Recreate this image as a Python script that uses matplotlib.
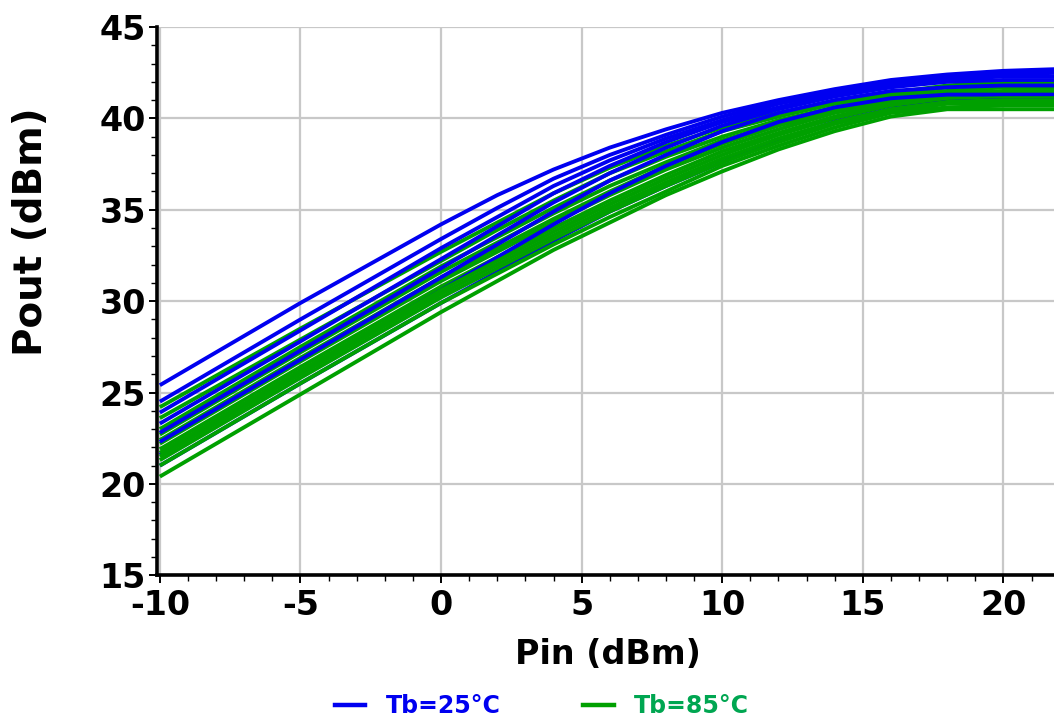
import matplotlib.pyplot as plt
from matplotlib.lines import Line2D
from matplotlib.ticker import MultipleLocator

# input power sweep points (dBm)
pin = [-10, -5, 0, 2, 4, 6, 8, 10, 12, 14, 16, 18, 20, 22]

# output power (dBm), Tb = 25 C
pout_25c = [
    [25.4, 29.9, 34.2, 35.8, 37.2, 38.4, 39.4, 40.3, 41.0, 41.6, 42.1, 42.4, 42.6, 42.7],
    [24.5, 29.0, 33.4, 35.1, 36.7, 38.0, 39.1, 40.1, 40.9, 41.5, 42.0, 42.3, 42.5, 42.6],
    [23.9, 28.4, 32.9, 34.6, 36.3, 37.7, 38.9, 39.9, 40.8, 41.4, 41.9, 42.2, 42.4, 42.5],
    [23.3, 27.8, 32.3, 34.1, 35.9, 37.4, 38.7, 39.8, 40.6, 41.3, 41.8, 42.1, 42.3, 42.3],
    [22.8, 27.3, 31.8, 33.6, 35.4, 37.0, 38.4, 39.6, 40.5, 41.2, 41.7, 42.0, 42.1, 42.1],
    [22.3, 26.8, 31.3, 33.1, 34.9, 36.6, 38.0, 39.3, 40.3, 41.0, 41.5, 41.7, 41.8, 41.8],
    [21.6, 26.1, 30.6, 32.4, 34.2, 35.9, 37.4, 38.7, 39.8, 40.6, 41.1, 41.3, 41.3, 41.3],
    [21.0, 25.5, 29.9, 31.6, 33.3, 34.9, 36.3, 37.6, 38.8, 39.8, 40.5, 40.9, 41.0, 41.0],
]

# output power (dBm), Tb = 85 C
pout_85c = [
    [24.2, 28.5, 32.7, 34.3, 35.9, 37.3, 38.5, 39.5, 40.3, 40.9, 41.4, 41.8, 42.0, 42.0],
    [23.6, 27.9, 32.2, 33.9, 35.5, 37.0, 38.2, 39.3, 40.1, 40.8, 41.3, 41.7, 41.9, 41.9],
    [23.0, 27.5, 31.9, 33.5, 35.1, 36.6, 37.9, 39.0, 39.9, 40.6, 41.2, 41.5, 41.7, 41.7],
    [22.7, 27.2, 31.6, 33.2, 34.8, 36.3, 37.6, 38.8, 39.7, 40.5, 41.1, 41.4, 41.5, 41.5],
    [22.4, 26.9, 31.3, 32.9, 34.5, 36.0, 37.4, 38.6, 39.6, 40.4, 41.0, 41.3, 41.4, 41.4],
    [22.2, 26.7, 31.1, 32.7, 34.3, 35.8, 37.2, 38.4, 39.4, 40.3, 40.9, 41.2, 41.3, 41.3],
    [21.9, 26.4, 30.8, 32.4, 34.0, 35.5, 36.9, 38.2, 39.2, 40.1, 40.8, 41.1, 41.2, 41.2],
    [21.7, 26.2, 30.6, 32.2, 33.8, 35.3, 36.7, 38.0, 39.1, 40.0, 40.7, 41.0, 41.1, 41.1],
    [21.5, 26.0, 30.4, 32.0, 33.6, 35.1, 36.5, 37.8, 38.9, 39.8, 40.5, 40.9, 41.0, 41.0],
    [21.3, 25.8, 30.2, 31.8, 33.4, 34.9, 36.3, 37.6, 38.7, 39.7, 40.4, 40.8, 40.8, 40.8],
    [21.0, 25.5, 29.9, 31.5, 33.1, 34.6, 36.0, 37.4, 38.5, 39.5, 40.3, 40.6, 40.7, 40.7],
    [20.4, 24.9, 29.4, 31.1, 32.8, 34.3, 35.8, 37.1, 38.3, 39.3, 40.1, 40.5, 40.5, 40.5],
]

x_ticks = [-10, -5, 0, 5, 10, 15, 20]
y_ticks = [15, 20, 25, 30, 35, 40, 45]
legend_labels = ["Tb=25°C", "Tb=85°C"]

BLUE = "#0000f0"
GREEN = "#00a000"
FONT = "DejaVu Sans"

fig = plt.figure(figsize=(10.54, 7.2), dpi=100)
ax = fig.add_axes([0.149, 0.201, 0.851, 0.7615])

# draw the two temperature sets interleaved so neither hides the other
for i in range(max(len(pout_25c), len(pout_85c))):
    if i < len(pout_85c):
        ax.plot(pin, pout_85c[i], color=GREEN, lw=2.8, solid_capstyle="butt")
    if i < len(pout_25c):
        ax.plot(pin, pout_25c[i], color=BLUE, lw=2.8, solid_capstyle="butt")

ax.set_xlim(-10.1, 21.8)
ax.set_ylim(15, 45)
ax.set_xticks(x_ticks)
ax.set_yticks(y_ticks)
ax.set_xticklabels([str(v) for v in x_ticks])
ax.set_yticklabels([str(v) for v in y_ticks])
ax.xaxis.set_minor_locator(MultipleLocator(1))
ax.yaxis.set_minor_locator(MultipleLocator(1))

ax.grid(True, which="major", color="#c8c8c8", lw=1.6)
ax.set_axisbelow(True)

for side in ["top", "right"]:
    ax.spines[side].set_visible(False)
for side in ["left", "bottom"]:
    ax.spines[side].set_linewidth(2.6)
    ax.spines[side].set_color("black")

ax.tick_params(which="major", length=6, width=1.4)
ax.tick_params(axis="y", which="major", pad=2)
ax.tick_params(axis="x", which="major", pad=4)
ax.tick_params(which="minor", length=4, width=1.0)
for lab in ax.get_xticklabels() + ax.get_yticklabels():
    lab.set_fontfamily(FONT)
    lab.set_fontweight("bold")
    lab.set_fontsize(24)

fig.text(0.577, 1 - 655 / 720, "Pin (dBm)", ha="center", va="center",
         fontsize=24, fontweight="bold", family=FONT)
fig.text(0.029, 1 - 232 / 720, "Pout (dBm)", ha="center", va="center",
         rotation=90, fontsize=28, fontweight="bold", family=FONT)

handles = [Line2D([], [], color=BLUE, lw=3.2),
           Line2D([], [], color=GREEN, lw=3.2)]
leg = fig.legend(handles, legend_labels, loc="center", bbox_to_anchor=(0.514, 1 - 706 / 720),
                 ncol=2, frameon=False, handlelength=1.3, handletextpad=0.85,
                 columnspacing=3.5, prop={"family": FONT, "weight": "bold", "size": 17})
for txt, col in zip(leg.get_texts(), [BLUE, "#00a651"]):
    txt.set_color(col)

fig.savefig("out.png", dpi=100)
